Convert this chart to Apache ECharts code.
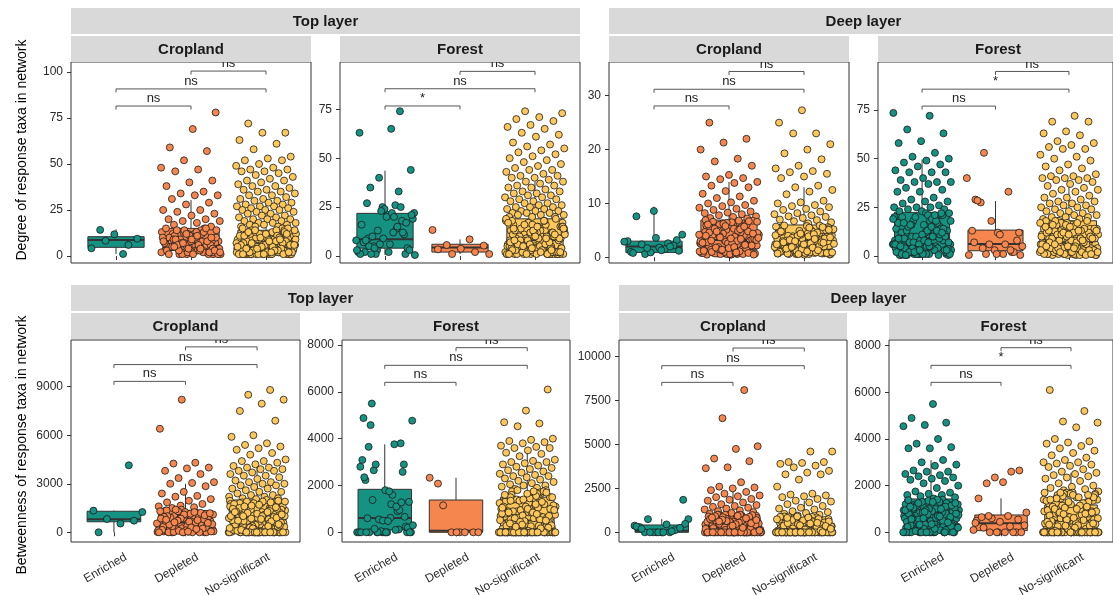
<!DOCTYPE html>
<html><head><meta charset="utf-8">
<script src="https://cdn.jsdelivr.net/npm/echarts@6.0.0/dist/echarts.min.js"></script>
<style>html,body{margin:0;padding:0;background:#fff}#c{width:1113px;height:595px}</style>
</head><body><div id="c"></div>
<script>
const CATS = ['Enriched', 'Depleted', 'No-significant'];
const COLORS = ['#149282', '#F4864E', '#FDC75A'];
const FONT = '"Liberation Sans", Arial, Helvetica, sans-serif';

// ---------- Degree (top row) ----------
const TC_ENR = [1.1,14.2,9.4,11.8,4.2,6,8.3];
const TC_DEP = [78,69,59,57,52,48,47,46,41,40,38,35,34,33,33,31,29,28,25,25,24,23,22,20,20,19,19,18,17,16,
 12,3,8,1,14,5,10,2,7,13,4,9,1,11,6,15,2,8,3,12,5,1,9,14,4,7,2,10,6,13,1,3,11,8,5,15,2,9,4,12,
 7,1,6,10,3,14,2,8,5,11,1,4,13,9,6,2,7,12,3,10,1,5,8,14,2,6,9,4,11,3,13,7,1,10,5,2,12,8,4,6,3,9,1,15,7,2,11,5,10,4];
const TC_NS = [72,67,67,63,61,58,54,53,52,52,50,49,48,47,47,46,46,45,44,43,42,41,41,40,39,38,38,37,36,36,35,35,34,33,33,32,31,31,30,30,
 29,29,28,28,27,27,27,26,26,25,25,25,24,24,23,23,22,22,21,21,20,20,20,19,19,18,18,18,17,17,17,16,16,16,
 3,7,1,12,5,9,2,14,4,6,1,10,3,8,2,13,5,1,11,4,6,2,9,1,15,3,7,4,12,2,5,1,8,10,3,6,1,14,4,2,
 9,5,1,11,3,7,2,6,13,1,4,8,2,10,5,3,1,12,6,2,4,9,1,7,3,15,2,5,11,1,6,3,8,2,14,4,1,10,5,7,
 2,12,3,6,1,9,4,2,13,5,1,8,3,11,2,6,4,1,10,7,5,2,14,1,3,8,6,2,11,4,1,9,3,7,12,2,5,1,15,6,
 3,10,1,4,7,2,13,5,1,8,3,6,2,11,4,1,9,5,2,12,1,6,3,14,2,8,4,1,10,5,3,7,2,12,1,9,4,6,2,13];
const TF_ENR = [74,3,22,65,9,1,25,63,14,5,44,21,2,18,40,8,12,35,4,24,16,33,1,19,6,27,11,23,2,26,
 10,3,20,7,25,13,0.5,22,5,17,9,1,15,4,21,2,8,12,6,3,20,1];
const TF_DEP = [13.3,8.5,5.6,5.3,3.7,3.4,2,1,1];
const TF_NS = [74,73,71,70,69,67,66,65,63,62,61,58,57,56,55,54,53,52,51,50,49,48,47,46,45,44,44,43,42,41,41,40,40,39,38,38,37,36,36,35,
 35,34,33,33,32,32,31,31,30,30,29,29,28,28,27,27,26,26,25,25,25,24,24,23,23,23,22,22,22,21,21,21,20,20,20,
 2,9,15,4,1,12,6,18,3,8,1,14,5,10,2,17,7,3,11,1,6,13,2,9,4,16,1,7,12,3,5,19,2,8,1,11,4,15,6,3,
 10,1,7,14,2,5,18,3,9,1,13,6,2,11,4,16,8,1,12,3,5,17,2,7,10,1,4,13,6,2,15,3,9,1,12,5,18,2,8,4,
 11,1,6,14,3,7,2,16,5,10,1,9,4,13,2,6,19,3,8,1,12,4,7,2,15,5,1,10,3,17,6,2,9,1,14,4,8,11,3,5,
 2,13,7,1,16,4,9,3,12,6,1,18,5,2,10,3,7,1,14,2,6,11,4,1,9,5,2,15,8,3];
const DC_ENR = [3.2,8.6,1.0,2.6,0.6,4.2,1.8,7.6,2.2,0.9,3.0,1.5,2.4,1.2,3.6,0.8,2.0,1.7,2.9,1.3];
const DC_DEP = [25,22,21.3,20,18.3,17.8,17,15.3,15,14.7,14.5,14,13.8,13.3,13,12.3,11.8,11.3,11,10.5,10.2,10,9.7,9.5,9.2,9,8.8,8.5,8.3,8.2,8,7.8,7.6,7.5,7.3,7.2,
 3.2,0.8,5.5,1.6,6.8,2.4,0.5,4.1,1.2,3.7,6.2,0.9,2.8,5.1,1.5,4.6,0.7,3.3,6.5,2.1,1.1,4.4,2.6,0.6,5.8,3.0,1.8,6.9,0.9,3.9,2.2,5.3,1.4,4.8,0.7,2.9,6.4,1.7,3.5,0.5,
 5.0,2.3,0.8,4.2,1.3,6.6,3.1,0.6,2.7,5.6,1.9,4.0,0.9,3.6,6.1,1.2,2.5,4.9,0.7,3.3,1.5,5.9,2.0,0.6,4.5,3.8,1.0,6.7,2.9,0.8,5.2,1.6,3.4,0.5,4.3,2.4,6.3,1.1,3.0,5.5,
 0.9,2.6,4.7,1.4,6.0,3.2,0.7,5.4,2.1,1.0,3.9,6.8,1.8,4.4,0.6,2.8,5.7,1.3,3.6,0.8,4.1,2.0,6.4,1.2,3.4,5.0,0.7,2.5,4.6,1.5,6.2,3.0,0.9,5.3,2.2,1.7,4.0,0.6,3.7,6.6,
 1.9,3.1,0.8,5.8,2.7,1.1,4.8,0.5,3.5,6.1,2.3,1.4,4.2,0.9];
const DC_NS = [27.3,25,23,23,21,20,19.3,18.2,17,16.5,16,15.8,15.5,15,14.7,13.3,13,12.5,12.2,11.7,10.5,10.2,10,9.7,9.5,9.3,9,8.8,8.5,8.2,8,7.8,7.6,7.5,7.3,7,6.9,6.7,6.5,6.3,
 2.8,0.7,4.9,1.5,3.6,0.9,5.6,2.2,1.1,4.3,0.6,3.1,5.2,1.8,0.8,2.6,4.6,1.3,3.9,0.5,5.8,1.9,3.3,0.7,2.4,4.8,1.2,0.9,3.7,5.5,2.0,1.4,4.1,0.6,2.9,5.0,1.6,3.4,0.8,2.1,
 4.5,1.0,3.0,5.9,0.7,2.5,1.7,4.0,0.9,3.5,5.3,1.3,2.7,0.6,4.4,1.8,3.2,0.8,5.7,2.3,1.1,3.8,0.5,4.7,2.6,1.5,5.1,0.9,3.1,2.0,4.2,0.7,1.6,3.6,5.4,1.2,2.8,0.8,4.0,1.9,
 3.3,0.6,5.0,2.2,1.0,4.6,2.9,0.9,3.9,1.4,5.6,0.7,2.4,4.3,1.7,3.0,0.8,4.9,2.1,1.2,5.2,2.6,0.7,3.5,1.5,4.5,0.9,2.0,3.7,1.1,5.9,2.8,0.6,4.1,1.8,3.2,0.8,2.4,4.8,1.3,
 3.0,0.9,5.5,1.6,2.7,4.4,0.7,3.4,1.9,5.1];
const DF_ENR = [73.5,72,65,63,59,58,53,51,50,49,48,47,46,44,43,43,43,40,39,38,38,38,37,35,34,33,33,30,29,28,28,27,26,25,25,25,24,24,23,23,
 5,18,2,11,0.5,21,7,14,3,9,1,16,12,4,20,6,1,13,8,2,17,3,10,0.5,22,5,15,1,8,19,4,12,2,9,14,1,6,21,3,11,
 1,7,16,2,13,4,20,0.5,10,6,18,3,12,1,8,15,2,22,5,9,14,1,4,19,7,2,11,0.5,17,6,3,13,1,21,8,2,10,16,4,12,
 2,9,1,20,5,15,3,11,0.5,18,7,1,13,4,22,6,2,10,16,3,8,1,12,3,19,5,0.5,14,2,9,21,4,7,1,17,11,3,6,15,2,
 10,1,5,13,2,18,7,0.5,12,3];
const DF_DEP = [53,0.5,12,29,2,6,40,1,27.5,8,3,13,33,1,5,11,28.5,2,18,0.5,6,4,12,1,7,3];
const DF_NS = [72,69,69,64,63,62,59,58,57,56,55,55,52,51,50,49,47,46,45,44,42,41,41,40,40,40,39,39,38,37,36,35,34,34,33,32,31,30,30,29,
 28,28,27,27,26,26,25,25,24,24,23,23,22,22,21,21,20,20,20,19,19,18,
 3,12,1,7,16,2,9,5,14,0.5,10,4,18,6,1,13,8,2,11,3,15,1,6,10,2,17,4,8,0.5,12,5,14,1,7,3,16,9,2,11,6,
 1,13,4,8,18,2,10,0.5,15,5,3,12,7,1,16,9,2,6,14,4,11,0.5,8,2,17,5,13,1,9,3,15,6,1,10,4,18,2,7,12,3,
 5,14,1,9,2,16,6,0.5,11,3,8,13,1,4,17,7,2,10,5,15,2,8,0.5,12,4,18,1,6,13,3,9,15,1,7,11,2,5,16,3,10,
 1,9,4,14,2,7,0.5,12,3,17,6,1,11,5,8,2,13,4];

// ---------- Betweenness (bottom row) ----------
const TC2_ENR = [1340,4140,820,1250,540,0,720];
const TC2_DEP = [8200,6400,4300,4250,4000,3950,3800,3600,3350,3100,3050,3000,2850,2500,2400,2250,2200,2050,1950,1850,1750,1650,1600,1550,1500,
 300,1100,50,700,1300,150,900,450,0,1200,600,250,1000,80,550,1350,200,800,20,1050,650,0,1250,350,950,100,500,1150,30,750,1400,250,850,0,400,1100,150,600,1300,60,
 900,200,1000,0,550,1200,300,700,40,1350,450,850,120,1050,0,650,1250,350,950,180,500,1150,0,800,250,1300,600,20,1000,400,700,1200,90,550,0,900,300,1100,150,750,
 1400,50,650,1000,230,850,0,1250,380,580,120,950,0,720,1100,300,480,1050,0,850,200,620,1180,40,780];
const TC2_NS = [8800,8500,8200,7950,7500,6900,6000,5900,5500,5400,5300,5200,5100,4900,4800,4500,4400,4400,4300,4200,4100,4000,4000,3900,3900,3800,3800,3700,3600,3500,
 3500,3400,3300,3200,3100,3100,3000,3000,2900,2900,2800,2700,2700,2600,2500,2500,2400,2300,2300,2200,2200,2100,2100,2050,
 300,1500,0,900,1800,120,700,1200,50,2000,450,1000,0,1600,250,800,1350,0,600,1900,150,1100,400,1700,0,850,1300,60,550,1950,200,1000,0,1450,350,750,1650,100,1250,0,
 500,1800,30,950,1400,0,650,1150,280,1550,0,850,1850,180,450,1200,0,700,1600,80,1050,0,380,1750,620,1300,0,900,200,1500,40,1000,1900,320,550,0,1250,780,0,1400,
 0,250,1650,850,0,1100,450,1950,120,700,1350,0,580,1000,1800,220,0,1500,900,60,1200,0,520,1700,300,0,1050,650,1450,0,150,800,1900,400,0,1300,950,0,1600,250,
 700,0,1150,480,1850,0,350,1000,0,1550,180,750,1250,0,600,1700,90,0,1400,880,0,1050,320,0,1750,560,1200,0,820,1500,0,240,1000,0,1600,420,0,1300,680,0,
 1900,0,150,900,0,1450,380,0,1100,0,720,0,1650,260,0,1000,500,0,1250,0];
const TF2_ENR = [5500,0,1800,4880,120,0,4770,620,3650,2900,0,2800,100,2650,1300,0,2230,3800,550,0,1600,4580,250,0,3090,900,2900,0,1750,600,
 2580,50,0,3760,1380,200,0,2350,950,0,300,1200,0,660,500,0,1100,150,0,480,0,1280];
const TF2_DEP = [0,2080,0,0,2330,0,1150,0,0];
const TF2_NS = [6100,5200,4700,4650,4530,4000,3950,3900,3850,3800,3700,3650,3600,3600,3500,3400,3350,3250,3100,3050,3000,3000,2950,2900,2850,2800,2750,2700,2650,2600,
 2550,2500,2450,2400,2400,2350,2300,2250,2200,2150,2100,2050,2000,2000,1950,1900,1850,
 0,850,1500,200,0,1100,600,1750,0,350,1300,50,900,0,1600,450,0,1200,700,0,1400,100,0,800,1650,300,0,1000,550,1800,0,150,1250,0,650,1450,0,250,950,0,
 1550,0,500,1100,0,1700,380,0,850,1350,0,120,1000,0,600,1500,0,280,1200,0,750,0,1600,420,0,1050,0,1400,180,0,900,1750,0,520,1150,0,320,0,1300,680,
 0,1000,0,1500,220,0,800,1650,0,450,1250,0,80,950,0,1450,350,0,1100,0,580,1800,0,260,0,1200,720,0,1550,0,400,1000,0,150,1350,0,850,0,1700,480,
 0,1050,0,300,1450,0,650,0,1250,0,900,200,0,1600,540,0,1150,0,380,0,1400,0,780,0,1000,60,0,1300,450,0,1750,0,620,0,1100,280,0,1500,0,850,
 0,330,0,1200,0,700,1650,0,170,0,950,0,1350,500,0,1050,0,240];
const DC2_ENR = [0,380,0,750,1850,0,300,120,0,750,450,0,250,0,330,60,0,480,0,200];
const DC2_DEP = [8100,6500,4900,4750,4200,4050,3700,3650,2850,2600,2550,2500,2400,2300,2200,2100,2050,2000,1900,1850,1800,1700,1600,1550,1500,1450,1400,1350,1300,1250,1200,1150,1100,1050,
 0,500,100,850,0,300,700,0,950,200,0,600,400,0,1000,150,0,750,250,0,900,0,350,650,0,80,800,0,450,0,1000,220,0,550,0,700,120,0,880,300,
 0,600,0,150,950,0,420,0,780,0,250,1000,0,520,50,0,860,0,330,680,0,180,0,900,480,0,0,720,0,280,0,960,100,0,580,0,400,0,820,0,
 240,0,640,0,1000,0,360,0,760,60,0,500,0,920,200,0,0,680,0,440,0,840,0,140,0,560,0,980,300,0,0,720,0,460,0,880,0,200,0,620,
 0,380,0,800,0,100,940,0,520,0,0,260,0,700,0,0];
const DC2_NS = [4600,4600,4000,4000,3950,3900,3800,3700,3500,3400,3300,3300,3000,2600,2200,2150,2100,2050,2000,1900,1800,1750,1700,1600,1500,1400,1350,1300,1200,1150,1100,1050,1000,950,
 0,400,0,700,150,0,850,0,300,600,0,0,500,100,0,800,250,0,0,650,0,350,0,900,0,50,550,0,0,750,200,0,0,450,0,880,0,120,0,600,
 300,0,0,820,0,480,0,0,180,700,0,0,380,0,900,0,80,0,560,0,0,260,0,0,780,0,420,0,0,640,0,140,0,860,0,0,340,0,520,0,
 0,720,0,220,0,0,900,0,460,0,0,60,0,680,0,300,0,0,840,0,0,400,0,580,0,0,160,0,760,0,0,500,0,240,0,880,0,0,620,0,
 0,100,0,740,0,0,360,0,0,540,0,200,0,820,0,0];
const DF2_ENR = [5500,4900,4700,4600,4550,4000,3800,3650,3600,3600,3100,3000,2900,2850,2650,2600,2600,2500,2450,2400,2350,2300,2250,2200,2100,2000,1900,1750,1700,1650,1600,1600,1550,1500,1450,
 300,1100,0,700,1350,150,900,450,0,1200,600,250,1000,80,550,1300,200,800,0,1050,650,0,1250,350,950,100,500,1150,30,750,1400,250,850,0,400,1100,150,600,1300,60,
 900,200,1000,0,550,1200,300,700,40,1350,450,850,120,1050,0,650,1250,350,950,180,500,1150,0,800,250,1300,600,20,1000,400,700,1200,90,550,0,900,300,1100,150,750,
 1400,50,650,1000,230,850,0,1250,380,580,120,950,0,720,1100,300,480,1050,0,850,200,620,1180,40,780,0,1000,330,0,1300,560,100,880,0,700,1150,260,0,1380,500,
 0,800,150,1050,420,0,950,680,1250,0,350,1100,0,600,200];
const DF2_DEP = [2650,0,500,2600,0,300,2150,650,0,2350,100,700,2100,0,450,1450,0,600,850,0,200,550,0,400,250,700];
const DF2_NS = [6100,5200,4750,4700,4500,4000,3900,3850,3800,3700,3600,3500,3400,3300,3200,3100,3000,3000,2950,2900,2850,2800,2700,2600,2550,2500,2450,2400,2350,2300,
 2200,2100,2000,1950,1900,1850,1800,1750,
 0,800,1500,200,0,1100,600,1650,0,350,1300,50,900,0,1600,450,0,1200,700,0,1400,100,0,800,1650,300,0,1000,550,1700,0,150,1250,0,650,1450,0,250,950,0,
 1550,0,500,1100,0,1700,380,0,850,1350,0,120,1000,0,600,1500,0,280,1200,0,750,0,1600,420,0,1050,0,1400,180,0,900,1650,0,520,1150,0,320,0,1300,680,
 0,1000,0,1500,220,0,800,1650,0,450,1250,0,80,950,0,1450,350,0,1100,0,580,1700,0,260,0,1200,720,0,1550,0,400,1000,0,150,1350,0,850,0,1600,480,
 0,1050,0,300,1450,0,650,0,1250,0,900,200,0,1600,540,0,1150,0,380,0,1400,0,780,0,1000,60,0,1300,450,0,1700,0,620,0,1100,280,0,1500,0,850,
 0,330];

// box stats: [category, lower whisker, Q1, median, Q3, upper whisker]
const TC_BOX = [[1,1.1,4.7,8.7,10.5,14.5],[2,0,3,7,15,30.4],[3,0,3,7,14,31]];
const TF_BOX = [[1,0.5,4,8.5,21.8,43.6],[2,1,2,4.4,6,8.5],[3,0,3,8,19,38]];
const DC_BOX = [[1,0.6,0.9,2.0,3.0,9.4],[2,0.5,1.5,3.2,6.9,14],[3,0.5,1.5,3.2,6,13]];
const DF_BOX = [[1,0.5,2.5,8.9,22.4,49.6],[2,0.5,2.7,6.2,13.3,28.2],[3,0.5,2,7,18.1,38]];
const TC2_BOX = [[1,0,650,800,1300,1350],[2,0,150,600,1350,3000],[3,0,200,900,2000,4000]];
const TF2_BOX = [[1,0,100,612,1836,3758],[2,0,0,70,1380,2330],[3,0,50,500,1500,3600]];
const DC2_BOX = [[1,0,0,95,417,750],[2,0,0,230,987,2450],[3,0,0,200,740,1800]];
const DF2_BOX = [[1,0,170,530,1430,3100],[2,0,70,386,743,1457],[3,0,150,500,1170,2550]];

// significance brackets: [from, to, height, label]
const TC_BR = [[1,2,81.5,'ns'],[1,3,90.8,'ns'],[2,3,100.5,'ns']];
const TF_BR = [[1,2,76.7,'*'],[1,3,85.5,'ns'],[2,3,94.4,'ns']];
const DC_BR = [[1,2,28.1,'ns'],[1,3,31.2,'ns'],[2,3,34.5,'ns']];
const DF_BR = [[1,2,77,'ns'],[1,3,85.7,'*'],[2,3,94.8,'ns']];
const TC2_BR = [[1,2,9330,'ns'],[1,3,10366,'ns'],[2,3,11462,'ns']];
const TF2_BR = [[1,2,6406,'ns'],[1,3,7132,'ns'],[2,3,7886,'ns']];
const DC2_BR = [[1,2,8539,'ns'],[1,3,9488,'ns'],[2,3,10494,'ns']];
const DF2_BR = [[1,2,6429,'ns'],[1,3,7157,'*'],[2,3,7914,'ns']];

// y-axis tick values
const TICKS_TC = [0,25,50,75,100], TICKS_TF = [0,25,50,75], TICKS_DC = [0,10,20,30], TICKS_DF = [0,25,50,75];
const TICKS_TC2 = [0,3000,6000,9000], TICKS_TF2 = [0,2000,4000,6000,8000], TICKS_DC2 = [0,2500,5000,7500,10000], TICKS_DF2 = [0,2000,4000,6000,8000];

// ---------- layout ----------
const PANELS = [
 {x:71, y:62, w:240, h:201, ymin:-3.8, ymax:105.43, ticks:TICKS_TC, groups:[TC_ENR,TC_DEP,TC_NS], box:TC_BOX, br:TC_BR, xlab:false},
 {x:340, y:62, w:240, h:201, ymin:-3.58, ymax:99.18, ticks:TICKS_TF, groups:[TF_ENR,TF_DEP,TF_NS], box:TF_BOX, br:TF_BR, xlab:false},
 {x:609, y:62, w:240, h:201, ymin:-1.06, ymax:36.26, ticks:TICKS_DC, groups:[DC_ENR,DC_DEP,DC_NS], box:DC_BOX, br:DC_BR, xlab:false},
 {x:878, y:62, w:240, h:201, ymin:-3.6, ymax:99.65, ticks:TICKS_DF, groups:[DF_ENR,DF_DEP,DF_NS], box:DF_BOX, br:DF_BR, xlab:false},
 {x:71, y:340, w:229, h:202, ymin:-600, ymax:11887, ticks:TICKS_TC2, groups:[TC2_ENR,TC2_DEP,TC2_NS], box:TC2_BOX, br:TC2_BR, xlab:true},
 {x:342, y:340, w:228, h:202, ymin:-414, ymax:8214, ticks:TICKS_TF2, groups:[TF2_ENR,TF2_DEP,TF2_NS], box:TF2_BOX, br:TF2_BR, xlab:true},
 {x:619, y:340, w:228, h:202, ymin:-552, ymax:10951, ticks:TICKS_DC2, groups:[DC2_ENR,DC2_DEP,DC2_NS], box:DC2_BOX, br:DC2_BR, xlab:true},
 {x:889, y:340, w:229, h:202, ymin:-416, ymax:8244, ticks:TICKS_DF2, groups:[DF2_ENR,DF2_DEP,DF2_NS], box:DF2_BOX, br:DF2_BR, xlab:true}
];
const STRIPS = [
 {x:71, y:8, w:509, h:26, t:'Top layer'}, {x:609, y:8, w:509, h:26, t:'Deep layer'},
 {x:71, y:36, w:240, h:26, t:'Cropland'}, {x:340, y:36, w:240, h:26, t:'Forest'},
 {x:609, y:36, w:240, h:26, t:'Cropland'}, {x:878, y:36, w:240, h:26, t:'Forest'},
 {x:71, y:285, w:499, h:26, t:'Top layer'}, {x:619, y:285, w:499, h:26, t:'Deep layer'},
 {x:71, y:313, w:229, h:26, t:'Cropland'}, {x:342, y:313, w:228, h:26, t:'Forest'},
 {x:619, y:313, w:228, h:26, t:'Cropland'}, {x:889, y:313, w:229, h:26, t:'Forest'}
];

function jitter(i, seed) {
  const f = ((i + 1) * 0.6180339887 + seed) % 1;
  return (f - 0.5) * 0.8;
}

function renderBox(params, api) {
  const c = api.value(0);
  const lo = api.coord([c, api.value(1)]), q1 = api.coord([c, api.value(2)]);
  const md = api.coord([c, api.value(3)]), q3 = api.coord([c, api.value(4)]);
  const hi = api.coord([c, api.value(5)]);
  const w = api.size([0.75, 0])[0];
  const stroke = '#333333';
  return {type:'group', children:[
    {type:'line', shape:{x1:lo[0], y1:lo[1], x2:q1[0], y2:q1[1]}, style:{stroke, lineWidth:1}},
    {type:'line', shape:{x1:q3[0], y1:q3[1], x2:hi[0], y2:hi[1]}, style:{stroke, lineWidth:1}},
    {type:'rect', shape:{x:q3[0]-w/2, y:q3[1], width:w, height:Math.max(q1[1]-q3[1], 0.5)}, style:{fill:COLORS[c-1], stroke, lineWidth:1}},
    {type:'line', shape:{x1:md[0]-w/2, y1:md[1], x2:md[0]+w/2, y2:md[1]}, style:{stroke, lineWidth:2}}
  ]};
}

function bracketRenderer(br) {
  return function (params, api) {
    const yv = api.value(2);
    const a = api.coord([api.value(0), yv]), b = api.coord([api.value(1), yv]);
    const tip = 3.5;
    return {type:'group', children:[
      {type:'polyline', shape:{points:[[a[0], a[1]+tip], [a[0], a[1]], [b[0], b[1]], [b[0], b[1]+tip]]},
       style:{stroke:'#555555', lineWidth:1, fill:null}},
      {type:'text', x:(a[0]+b[0])/2, y:a[1]-1,
       style:{text:br[params.dataIndex][3], font:'13px ' + FONT, fill:'#222222', align:'center', verticalAlign:'bottom'}}
    ]};
  };
}

const grids = [], xAxes = [], yAxes = [], series = [];
PANELS.forEach((p, k) => {
  grids.push({left:p.x, top:p.y, width:p.w, height:p.h, show:true, backgroundColor:'#ffffff', borderColor:'#333333', borderWidth:1});
  xAxes.push({gridIndex:k, type:'value', min:0.4, max:3.6,
    axisLine:{show:false}, splitLine:{show:false},
    axisTick:{show:true, customValues:[1,2,3], length:4, lineStyle:{color:'#333333'}},
    axisLabel:{show:false}});
  yAxes.push({gridIndex:k, type:'value', min:p.ymin, max:p.ymax,
    axisLine:{show:false}, splitLine:{show:false},
    axisTick:{show:true, customValues:p.ticks, length:4, lineStyle:{color:'#333333'}},
    axisLabel:{customValues:p.ticks, formatter:(v) => String(v), fontSize:12, color:'#2a2a2a', margin:8, fontFamily:FONT, hideOverlap:false}});
  series.push({type:'custom', xAxisIndex:k, yAxisIndex:k, data:p.box, renderItem:renderBox,
    encode:{x:0, y:[1,2,3,4,5]}, z:1, silent:true, clip:false, animation:false});
  p.groups.forEach((vals, g) => {
    series.push({type:'scatter', xAxisIndex:k, yAxisIndex:k, z:2, silent:true, animation:false,
      data: vals.map((v, i) => [g + 1 + jitter(i, k * 0.131 + g * 0.293), v]),
      symbol:'circle', symbolSize:7,
      itemStyle:{color:COLORS[g], borderColor:'#1a1a1a', borderWidth:0.8, opacity:1}});
  });
  series.push({type:'custom', xAxisIndex:k, yAxisIndex:k, data:p.br.map(b => b.slice(0,3)),
    renderItem:bracketRenderer(p.br), encode:{x:[0,1], y:2}, z:3, silent:true, clip:true, animation:false});
});

const graphics = [];
STRIPS.forEach(s => {
  graphics.push({type:'rect', shape:{x:s.x, y:s.y, width:s.w, height:s.h}, style:{fill:'#D9D9D9'}, z:100, silent:true});
  graphics.push({type:'text', x:s.x + s.w/2, y:s.y + s.h/2 + 0.5, z:101, silent:true,
    style:{text:s.t, font:'bold 15px ' + FONT, fill:'#1A1A1A', align:'center', verticalAlign:'middle'}});
});
graphics.push({type:'text', x:22, y:150, rotation:Math.PI/2, z:101, silent:true,
  style:{text:'Degree of response taxa in network', font:'14px ' + FONT, fill:'#000', align:'center', verticalAlign:'middle'}});
graphics.push({type:'text', x:22, y:445, rotation:Math.PI/2, z:101, silent:true,
  style:{text:'Betweenness of response taxa in network', font:'14px ' + FONT, fill:'#000', align:'center', verticalAlign:'middle'}});

const chart = echarts.init(document.getElementById('c'), null, {renderer:'canvas', width:1113, height:595});
chart.setOption({
  animation:false,
  backgroundColor:'#ffffff',
  grid:grids, xAxis:xAxes, yAxis:yAxes, series:series, graphic:graphics
});

// rotated category labels, placed at the library's tick positions
PANELS.forEach((p, k) => {
  if (!p.xlab) return;
  CATS.forEach((name, c) => {
    const pt = chart.convertToPixel({xAxisIndex:k, yAxisIndex:k}, [c + 1, p.ymin]);
    graphics.push({type:'text', x:pt[0] + 9, y:pt[1] + 9, rotation:Math.PI/6, z:101, silent:true,
      style:{text:name, font:'12px ' + FONT, fill:'#2a2a2a', align:'right', verticalAlign:'top'}});
  });
});
chart.setOption({graphic:graphics});
</script>
</body></html>
